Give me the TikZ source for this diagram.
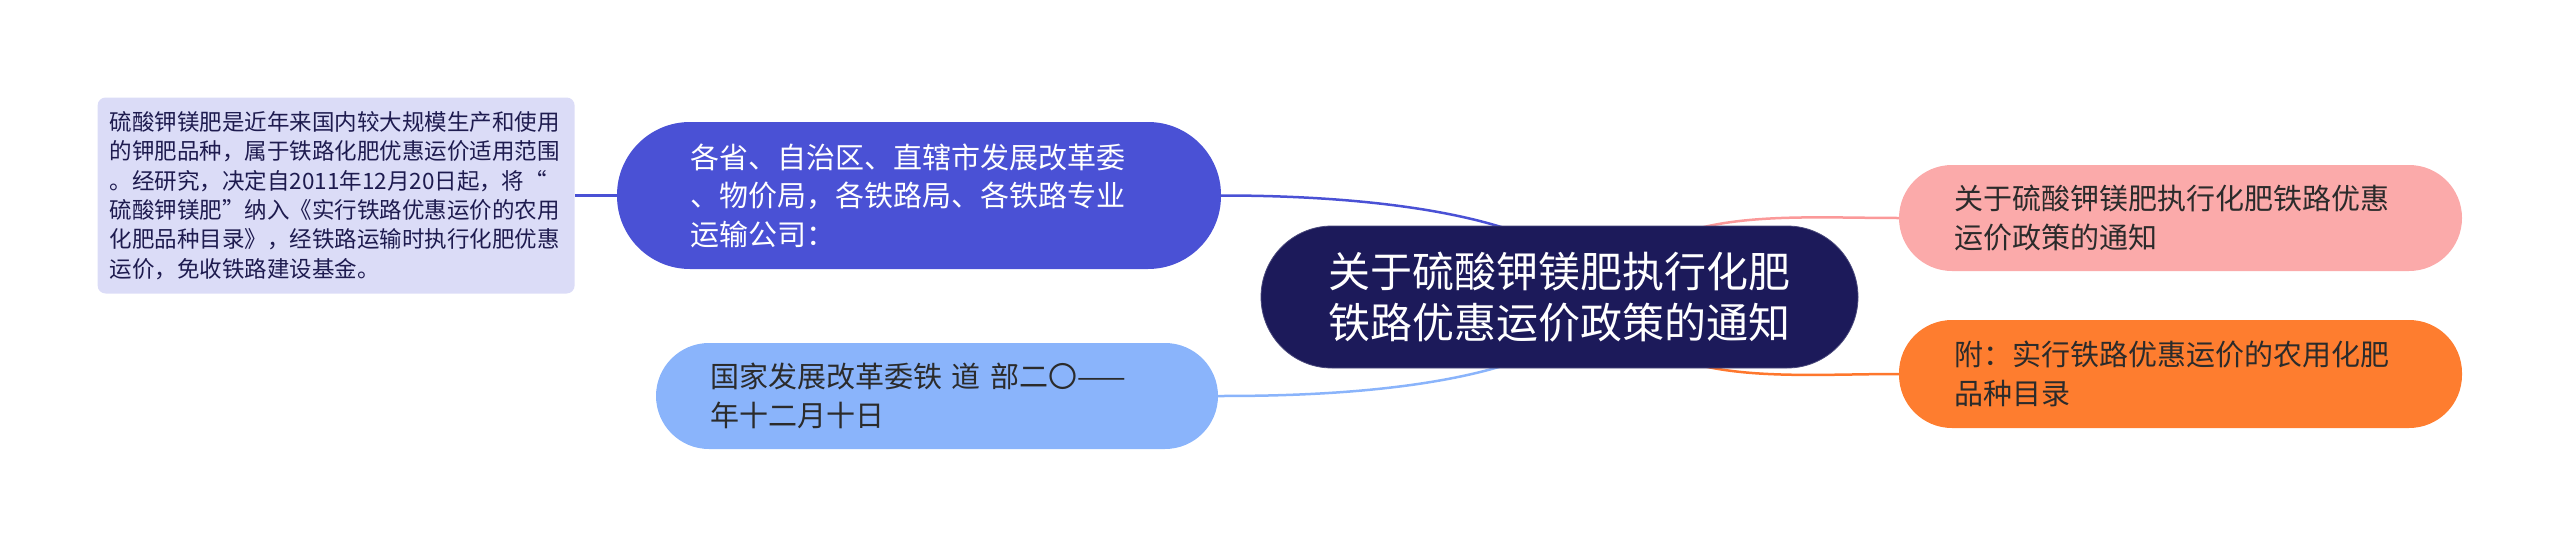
\documentclass[tikz,border=0pt]{standalone}
\usepackage{fontspec}
\setmainfont{Noto Sans CJK SC}
\usepackage{xcolor}
\usetikzlibrary{positioning, backgrounds}
\definecolor{rootcol}{HTML}{1C1A5A}
\definecolor{recvcol}{HTML}{4A51D5}
\definecolor{signcol}{HTML}{8AB4FB}
\definecolor{titlecol}{HTML}{FBAAAA}
\definecolor{annexcol}{HTML}{FE7D2F}
\definecolor{memocol}{HTML}{DBDCF7}
\definecolor{inkcol}{HTML}{2B2B2B}
\definecolor{memoink}{HTML}{1E1B4F}

\begin{document}
\begin{tikzpicture}[
    x=1pt, y=-1pt,
    rootbox/.style = {
        fill=rootcol, draw=rootcol!80!white, line width=0.8pt,
        rounded corners=71pt, minimum width=597pt, minimum height=142pt,
        align=center, text=white, font=\fontsize{42}{51}\selectfont
    },
    topicbox/.style = {
        rounded corners=53pt, minimum width=563pt, minimum height=106pt,
        text width=453pt, inner xsep=0pt, align=left, text=inkcol,
        font=\fontsize{29}{38.5}\selectfont
    },
    memobox/.style = {
        fill=memocol, rounded corners=8pt,
        text width=453pt, inner xsep=12pt, minimum height=196pt,
        align=left, text=memoink, font=\fontsize{22.5}{29.4}\selectfont
    },
    conn/.style = {line width=2.5pt}
  ]
  \useasboundingbox (0,0) rectangle (2560,549);

  %% root
  \node[rootbox] (root) at (1559.5,297)
       {关于硫酸钾镁肥执行化肥\\铁路优惠运价政策的通知};

  %% left side
  \node[topicbox, fill=recvcol, text=white, rounded corners=73pt,
        minimum width=604pt, minimum height=147pt, text width=458pt]
       (recv) at (919,195.5)
       {各省、自治区、直辖市发展改革委\\、物价局，各铁路局、各铁路专业\\运输公司：};
  \node[topicbox, fill=signcol, minimum width=562pt, text width=454pt]
       (sign) at (937,396)
       {国家发展改革委铁 道 部二〇——\\年十二月十日};
  \node[memobox, left=42pt of recv] (memo)
       {硫酸钾镁肥是近年来国内较大规模生产和使用\\的钾肥品种，属于铁路化肥优惠运价适用范围\\。经研究，决定自2011年12月20日起，将“\\硫酸钾镁肥”纳入《实行铁路优惠运价的农用\\化肥品种目录》，经铁路运输时执行化肥优惠\\运价，免收铁路建设基金。};

  %% right side
  \node[topicbox, fill=titlecol] (title) at (2180.5,218)
       {关于硫酸钾镁肥执行化肥铁路优惠\\运价政策的通知};
  \node[topicbox, fill=annexcol, minimum height=108pt] (annex) at (2180.5,374)
       {附：实行铁路优惠运价的农用化肥\\品种目录};

  %% connectors
  \begin{scope}[on background layer]
    \coordinate (o) at ([xshift=46pt]root.center);
    \draw[conn, recvcol] (o) .. controls +(-46,-97) and ([xshift=79pt]recv.east) .. (recv.east);
    \draw[conn, signcol] (o) .. controls +(-46,97) and ([xshift=82pt]sign.east) .. (sign.east);
    \draw[conn, titlecol!90!red] (o) .. controls +(45,-92) and ([xshift=-118pt]title.west) .. (title.west);
    \draw[conn, annexcol!95!red] (o) .. controls +(45,92) and ([xshift=-118pt]annex.west) .. (annex.west);
    \draw[conn, recvcol] (memo.east) -- (recv.west);
  \end{scope}

\end{tikzpicture}
\end{document}
